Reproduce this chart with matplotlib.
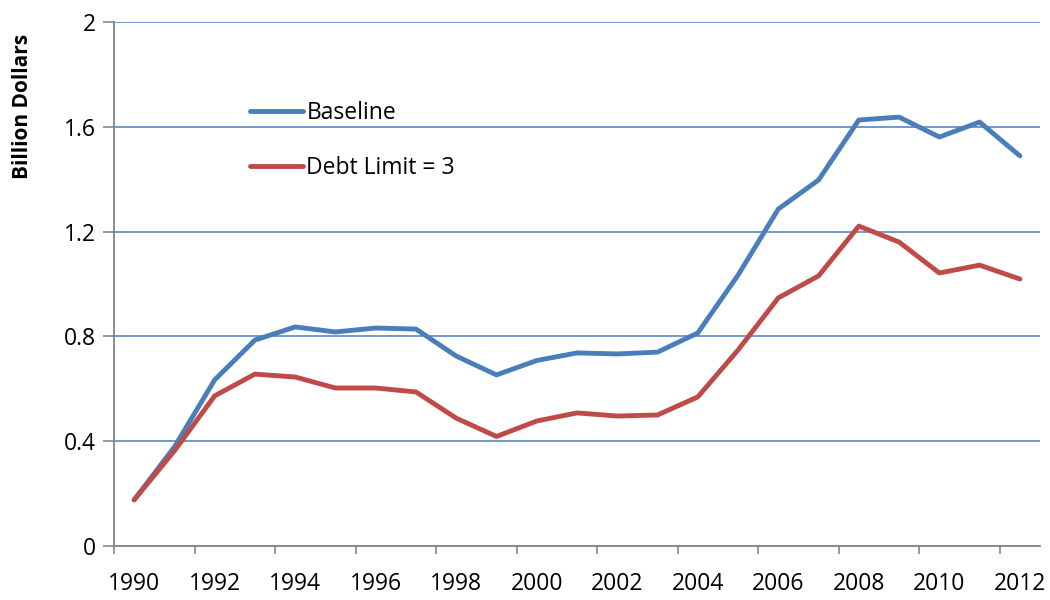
import numpy as np
import matplotlib
matplotlib.use("Agg")
import matplotlib.pyplot as plt
from matplotlib.ticker import FixedLocator

# data
years = list(range(1990, 2013))
baseline = [0.176, 0.378, 0.634, 0.786, 0.836, 0.817, 0.832, 0.828, 0.725, 0.653,
            0.708, 0.737, 0.733, 0.740, 0.813, 1.034, 1.286, 1.397, 1.626, 1.637,
            1.561, 1.618, 1.489]
debt_limit = [0.176, 0.363, 0.573, 0.656, 0.645, 0.603, 0.603, 0.588, 0.488, 0.418,
              0.477, 0.508, 0.496, 0.500, 0.569, 0.748, 0.947, 1.031, 1.221, 1.160,
              1.042, 1.072, 1.019]
yticks = [0, 0.4, 0.8, 1.2, 1.6, 2]
ytick_labels = ["0", "0.4", "0.8", "1.2", "1.6", "2"]

plt.rcParams['font.family'] = ['Open Sans', 'DejaVu Sans']

blue = '#4A7EBB'
red = '#BE4B48'
axis_grey = '#868686'

fig = plt.figure(figsize=(10.5, 6), dpi=100)
ax = fig.add_axes([114/1050, 1-546/600, (1040-114)/1050, (546-22)/600])

x = np.arange(len(years))
ax.plot(x, baseline, color=blue, lw=3.5, solid_capstyle='round',
        solid_joinstyle='round', label='Baseline', zorder=3)
ax.plot(x, debt_limit, color=red, lw=3.5, solid_capstyle='round',
        solid_joinstyle='round', label='Debt Limit = 3', zorder=3)

ax.set_xlim(-0.5, len(years) - 0.5)
ax.set_ylim(0, 2)

# tick marks between categories, labels under every other category
ax.xaxis.set_major_locator(FixedLocator(np.arange(-0.5, len(years), 2)))
ax.xaxis.set_major_formatter(plt.NullFormatter())
ax.xaxis.set_minor_locator(FixedLocator(x[::2]))
ax.set_xticklabels([str(y) for y in years[::2]], minor=True)
ax.tick_params(axis='x', which='major', length=6, width=1.2, color=axis_grey, direction='out')
ax.tick_params(axis='x', which='minor', length=0, labelsize=16.5, pad=19)

ax.set_yticks(yticks)
ax.set_yticklabels(ytick_labels)
ax.tick_params(axis='y', length=8, width=1.2, color=axis_grey, labelsize=16.5, pad=5)

ax.grid(axis='y', color=blue, lw=1.1, zorder=0)
for side in ['top', 'right']:
    ax.spines[side].set_visible(False)
for side in ['left', 'bottom']:
    ax.spines[side].set_color(axis_grey)
    ax.spines[side].set_linewidth(1.3)

ax.set_ylabel('Billion Dollars', fontsize=15, fontweight='bold')
ax.yaxis.set_label_coords(-0.0875, 0.838)

ax.legend(loc='upper left', bbox_to_anchor=(0.147, 0.849), frameon=False,
          fontsize=16.5, handlelength=2.3, handletextpad=0.15,
          labelspacing=1.35, borderpad=0, borderaxespad=0)

fig.savefig('out.png', dpi=100)
